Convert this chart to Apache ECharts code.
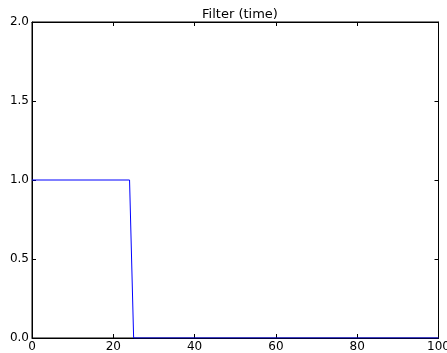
<!DOCTYPE html>
<html><head><meta charset="utf-8">
<script src="https://cdn.jsdelivr.net/npm/echarts@6/dist/echarts.min.js"></script>
<style>html,body{margin:0;padding:0;background:#fff}#c{width:447px;height:353px}</style>
</head><body><div id="c"></div>
<script>
const title = "Filter (time)";
const xValues = [0, 24, 25, 100];
const yValues = [1, 1, 0, 0];
const xTicks = [0, 20, 40, 60, 80, 100];
const yTicks = [0.0, 0.5, 1.0, 1.5, 2.0];

const font = 'DejaVu Sans';
const chart = echarts.init(document.getElementById('c'), null, {renderer: 'canvas'});
const axisLineStyle = {color: '#000', width: 1};
const tick = {show: true, inside: true, length: 4, lineStyle: {color: '#000', width: 1}};
chart.setOption({
  animation: false,
  backgroundColor: '#fff',
  title: {text: title, left: 235, textAlign: 'center', top: 3,
    textStyle: {fontFamily: font, fontSize: 13, fontWeight: 'normal', color: '#000'}},
  grid: {left: 32, right: 8.5, top: 22, bottom: 15, containLabel: false, outerBoundsMode: 'none',
    show: true, borderColor: '#000', borderWidth: 1, backgroundColor: 'transparent'},
  xAxis: [
    {type: 'value', min: 0, max: 100, interval: 20, position: 'bottom',
      axisLine: {show: true, onZero: false, lineStyle: axisLineStyle}, axisTick: tick,
      splitLine: {show: false},
      axisLabel: {fontFamily: font, fontSize: 12, color: '#000', margin: 3, hideOverlap: false,
        formatter: v => xTicks.includes(v) ? String(v) : ''}},
    {type: 'value', min: 0, max: 100, interval: 20, position: 'top',
      axisLine: {show: true, onZero: false, lineStyle: axisLineStyle}, axisTick: tick,
      splitLine: {show: false}, axisLabel: {show: false}}
  ],
  yAxis: [
    {type: 'value', min: 0, max: 2, interval: 0.5, position: 'left',
      axisLine: {show: true, onZero: false, lineStyle: axisLineStyle}, axisTick: tick,
      splitLine: {show: false},
      axisLabel: {fontFamily: font, fontSize: 12, color: '#000', margin: 3, hideOverlap: false,
        formatter: v => yTicks.some(t => Math.abs(t - v) < 1e-9) ? v.toFixed(1) : ''}},
    {type: 'value', min: 0, max: 2, interval: 0.5, position: 'right',
      axisLine: {show: true, onZero: false, lineStyle: axisLineStyle}, axisTick: tick,
      splitLine: {show: false}, axisLabel: {show: false}}
  ],
  series: [{
    type: 'line', xAxisIndex: 0, yAxisIndex: 0,
    data: xValues.map((x, i) => [x, yValues[i]]),
    showSymbol: false, symbol: 'none',
    lineStyle: {color: '#0000ff', width: 1}, z: 1
  }, {
    type: 'line', xAxisIndex: 1, yAxisIndex: 1, data: [], symbol: 'none', silent: true
  }]
});
</script></body></html>
